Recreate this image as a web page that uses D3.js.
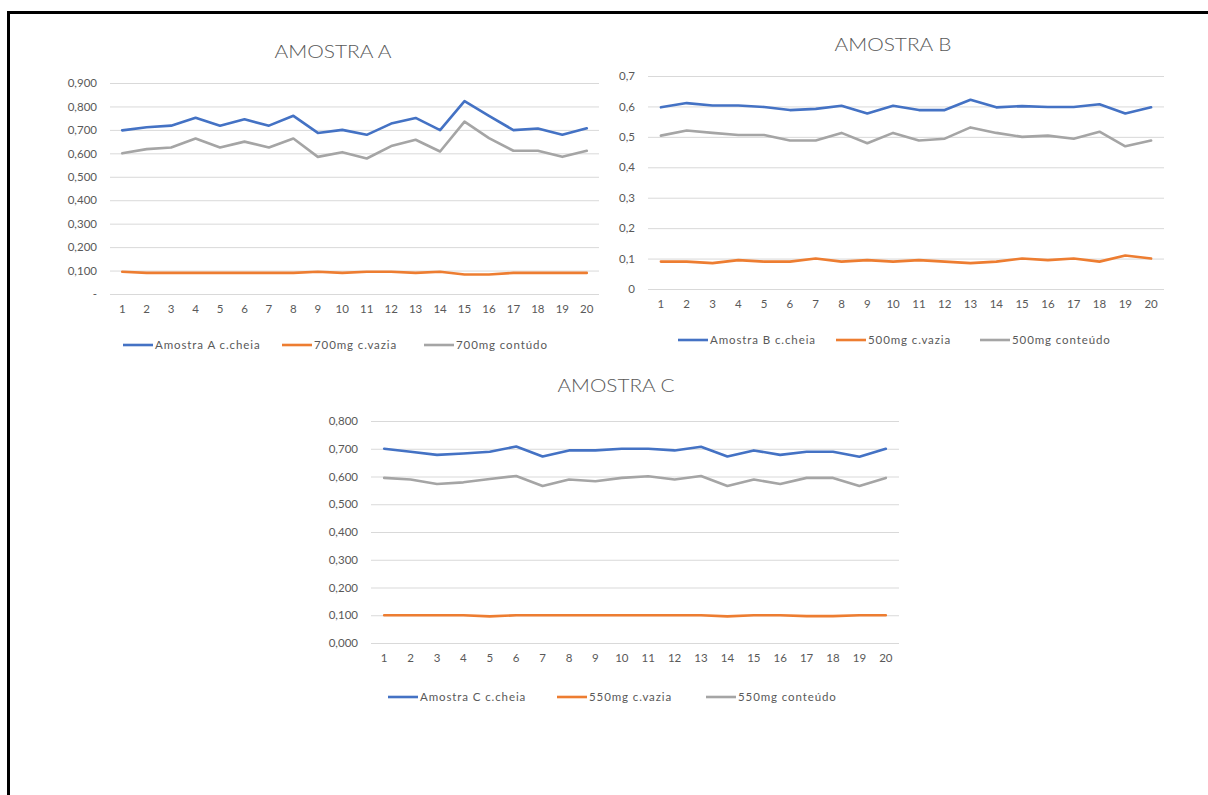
<!DOCTYPE html>
<html>
<head>
<meta charset="utf-8">
<script src="https://cdn.jsdelivr.net/npm/d3@7"></script>
<style>
  html, body { margin: 0; padding: 0; background: #fff; }
  svg { display: block; }
  text { font-family: Lato, "Open Sans", sans-serif; fill: #595959; }
</style>
</head>
<body>
<svg id="chart" width="1208" height="795"></svg>
<script>
// Sample numbers (x axis)
const samples = d3.range(1, 21);

// Amostra A
const aCheia   = [0.698,0.711,0.718,0.752,0.718,0.745,0.718,0.760,0.687,0.700,0.679,0.727,0.751,0.699,0.823,0.760,0.699,0.706,0.679,0.707];
const aVazia   = [0.095,0.090,0.090,0.090,0.090,0.090,0.090,0.090,0.095,0.090,0.095,0.095,0.090,0.095,0.083,0.083,0.090,0.090,0.090,0.090];
const aConteudo= [0.600,0.618,0.625,0.663,0.625,0.650,0.625,0.663,0.585,0.605,0.578,0.631,0.658,0.608,0.735,0.665,0.611,0.611,0.585,0.611];
const aTicks   = [0, 0.1, 0.2, 0.3, 0.4, 0.5, 0.6, 0.7, 0.8, 0.9];
const aLegend  = ["Amostra A c.cheia", "700mg c.vazia", "700mg contúdo"];

// Amostra B
const bCheia   = [0.597,0.611,0.603,0.603,0.598,0.588,0.592,0.602,0.577,0.602,0.588,0.588,0.622,0.597,0.601,0.598,0.598,0.607,0.577,0.597];
const bVazia   = [0.090,0.090,0.085,0.095,0.090,0.090,0.100,0.090,0.095,0.090,0.095,0.090,0.085,0.090,0.100,0.095,0.100,0.090,0.110,0.100];
const bConteudo= [0.504,0.521,0.513,0.506,0.506,0.488,0.488,0.513,0.479,0.513,0.488,0.494,0.531,0.513,0.500,0.504,0.494,0.517,0.469,0.488];
const bTicks   = [0, 0.1, 0.2, 0.3, 0.4, 0.5, 0.6, 0.7];
const bLegend  = ["Amostra B c.cheia", "500mg c.vazia", "500mg conteúdo"];

// Amostra C
const cCheia   = [0.700,0.689,0.678,0.683,0.689,0.708,0.672,0.694,0.694,0.700,0.700,0.694,0.707,0.672,0.694,0.678,0.689,0.689,0.671,0.700];
const cVazia   = [0.100,0.100,0.100,0.100,0.096,0.100,0.100,0.100,0.100,0.100,0.100,0.100,0.100,0.096,0.100,0.100,0.097,0.097,0.100,0.100];
const cConteudo= [0.595,0.589,0.573,0.579,0.591,0.602,0.566,0.589,0.583,0.595,0.601,0.589,0.602,0.566,0.589,0.573,0.595,0.595,0.566,0.595];
const cTicks   = [0, 0.1, 0.2, 0.3, 0.4, 0.5, 0.6, 0.7, 0.8];
const cLegend  = ["Amostra C c.cheia", "550mg c.vazia", "550mg conteúdo"];

const colors = ["#4472C4", "#ED7D31", "#A5A5A5"];

const svg = d3.select("#chart");

// Page frame: top and left rules
svg.append("rect").attr("x", 7).attr("y", 11).attr("width", 1201).attr("height", 3).attr("fill", "#000");
svg.append("rect").attr("x", 7).attr("y", 11).attr("width", 3).attr("height", 784).attr("fill", "#000");

const fmt3 = v => d3.format(".3f")(v).replace(".", ",");
const fmtA = v => v === 0 ? "-" : fmt3(v);
const fmtB = v => v === 0 ? "0" : d3.format(".1f")(v).replace(".", ",");

const panels = [
  { title: "AMOSTRA A", series: [aCheia, aVazia, aConteudo], ticks: aTicks, legend: aLegend, fmt: fmtA,
    x0: 110, x1: 599, yTop: 83, yBottom: 294, titleX: 333, titleY: 58, titleW: 117,
    legendY: 345, legendX: [123, 282, 424] },
  { title: "AMOSTRA B", series: [bCheia, bVazia, bConteudo], ticks: bTicks, legend: bLegend, fmt: fmtB,
    x0: 648, x1: 1164, yTop: 76, yBottom: 289, titleX: 893, titleY: 51, titleW: 117,
    legendY: 340, legendX: [678, 836, 980] },
  { title: "AMOSTRA C", series: [cCheia, cVazia, cConteudo], ticks: cTicks, legend: cLegend, fmt: fmt3,
    x0: 371, x1: 899, yTop: 421, yBottom: 643, titleX: 616, titleY: 392, titleW: 117,
    legendY: 697, legendX: [388, 557, 706] }
];

panels.forEach(p => {
  const g = svg.append("g");
  const yMax = d3.max(p.ticks);
  const x = d3.scaleBand().domain(samples).range([p.x0, p.x1]);
  const y = d3.scaleLinear().domain([0, yMax]).range([p.yBottom, p.yTop]);

  // Title
  g.append("text")
    .attr("x", p.titleX).attr("y", p.titleY)
    .attr("text-anchor", "middle")
    .attr("font-size", 17).attr("font-weight", 300)
    .attr("textLength", p.titleW).attr("lengthAdjust", "spacingAndGlyphs")
    .text(p.title);

  // Horizontal gridlines + y tick labels
  const yAxis = d3.axisLeft(y).tickValues(p.ticks).tickFormat(p.fmt)
    .tickSize(-(p.x1 - p.x0)).tickPadding(13);
  const ya = g.append("g").attr("transform", `translate(${p.x0},0)`).call(yAxis);
  ya.select(".domain").remove();
  ya.selectAll(".tick line").attr("stroke", "#d9d9d9").attr("stroke-width", 1);
  ya.selectAll(".tick text").attr("font-size", 11.5).attr("font-family", "Lato, sans-serif").attr("fill", "#595959");

  // x labels
  const xAxis = d3.axisBottom(x).tickSize(0).tickPadding(11);
  const xa = g.append("g").attr("transform", `translate(0,${p.yBottom})`).call(xAxis);
  xa.select(".domain").remove();
  xa.selectAll(".tick text").attr("font-size", 11.5).attr("font-family", "Lato, sans-serif").attr("fill", "#595959");

  // Lines
  const line = d3.line().x((d, i) => x(samples[i]) + x.bandwidth() / 2).y(d => y(d));
  p.series.forEach((s, i) => {
    g.append("path").datum(s)
      .attr("d", line)
      .attr("fill", "none")
      .attr("stroke", colors[i])
      .attr("stroke-width", 2.6)
      .attr("stroke-linejoin", "round")
      .attr("stroke-linecap", "round");
  });

  // Legend
  p.legend.forEach((name, i) => {
    const lx = p.legendX[i];
    g.append("line")
      .attr("x1", lx).attr("x2", lx + 30)
      .attr("y1", p.legendY).attr("y2", p.legendY)
      .attr("stroke", colors[i]).attr("stroke-width", 2.6);
    g.append("text")
      .attr("x", lx + 32).attr("y", p.legendY + 4)
      .attr("font-size", 11.5)
      .attr("letter-spacing", 0.9)
      .text(name);
  });
});
</script>
</body>
</html>
